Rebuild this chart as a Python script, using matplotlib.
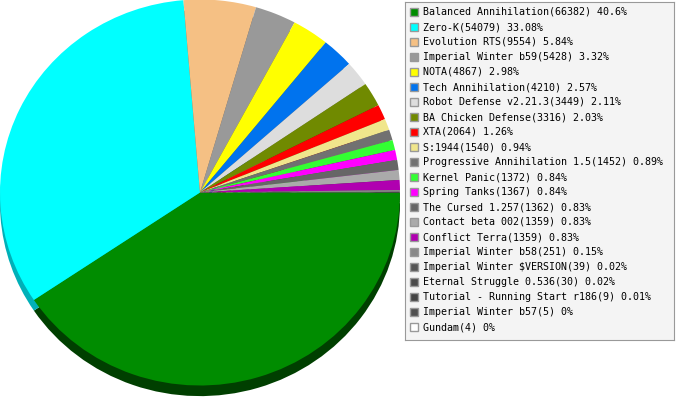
import numpy as np
import matplotlib.pyplot as plt
from matplotlib.patches import Rectangle

# game name, number of games played
names = ["Balanced Annihilation", "Zero-K", "Evolution RTS", "Imperial Winter b59",
         "NOTA", "Tech Annihilation", "Robot Defense v2.21.3", "BA Chicken Defense",
         "XTA", "S:1944", "Progressive Annihilation 1.5", "Kernel Panic",
         "Spring Tanks", "The Cursed 1.257", "Contact beta 002", "Conflict Terra",
         "Imperial Winter b58", "Imperial Winter $VERSION", "Eternal Struggle 0.536",
         "Tutorial - Running Start r186", "Imperial Winter b57", "Gundam"]
counts = [66382, 54079, 9554, 5428, 4867, 4210, 3449, 3316, 2064, 1540, 1452,
          1372, 1367, 1362, 1359, 1359, 251, 39, 30, 9, 5, 4]
colors = ["#008c00", "#00ffff", "#f5c084", "#999999", "#ffff00", "#0073ee",
          "#dddddd", "#708a00", "#ff0000", "#f0e68c", "#717171", "#33ff33",
          "#ff00ff", "#666666", "#aaaaaa", "#b000b0", "#888888", "#555555",
          "#4b4b4b", "#444444", "#505050", "#ffffff"]

total = sum(counts)
labels = []
for n, c in zip(names, counts):
    p = round(c / total * 100, 2)
    labels.append(f"{n}({c}) {p:g}%")

# darker shade for the side of the "3d" pie
dark = [tuple(np.array(plt.matplotlib.colors.to_rgb(c)) * 0.55) for c in colors]
dark[0] = "#003f00"
dark[1] = "#00b0b8"

fig = plt.figure(figsize=(6.77, 4.0), dpi=100)

ax = fig.add_axes([0, 0, 400 / 677, 1])
depth = 0.055
ax.pie(counts, colors=dark, startangle=0, counterclock=False, center=(0, -depth),
       wedgeprops=dict(linewidth=0))
ax.pie(counts, colors=colors, startangle=0, counterclock=False, center=(0, 0),
       wedgeprops=dict(linewidth=0))
ax.set_aspect('auto')
ax.set_xlim(-1.0, 1.0)
ax.set_ylim(-207.5 / 193, 192.5 / 193)
ax.axis('off')

# legend box
lax = fig.add_axes([405 / 677, 60 / 400, 269 / 677, 338 / 400])
lax.set_facecolor("#f4f4f4")
lax.set_xlim(0, 269)
lax.set_ylim(338, 0)
lax.set_xticks([])
lax.set_yticks([])
for s in lax.spines.values():
    s.set_color("#999999")
for i, (lab, c) in enumerate(zip(labels, colors)):
    cy = 10 + 15 * i
    lax.add_patch(Rectangle((5, cy - 4), 8, 8, facecolor=c, edgecolor="#999999", lw=1))
    lax.text(18, cy, lab, va='center', ha='left', fontsize=7.2,
             family='DejaVu Sans Mono', color='black')

fig.savefig("out.png", dpi=100)
